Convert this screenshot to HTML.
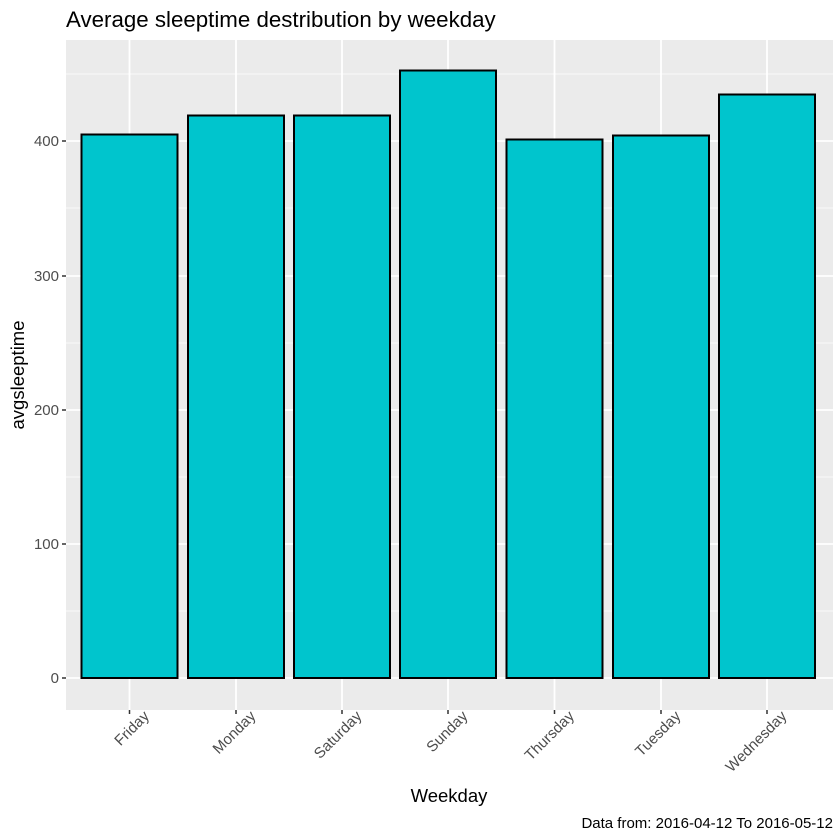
<!DOCTYPE html>
<html><head><style>body{margin:0;background:#fff}svg{display:block}</style></head>
<body>
<svg width="840" height="840" xmlns="http://www.w3.org/2000/svg" font-family="Liberation Sans, sans-serif">
<rect x="0" y="0" width="840" height="840" fill="#fff"/>
<rect x="66" y="40" width="767" height="670" fill="#ebebeb"/>
<g stroke="#fff" stroke-width="0.8">
<line x1="66" x2="833" y1="611" y2="611"/><line x1="66" x2="833" y1="477" y2="477"/>
<line x1="66" x2="833" y1="343" y2="343"/><line x1="66" x2="833" y1="208" y2="208"/>
<line x1="66" x2="833" y1="74" y2="74"/>
</g>
<g stroke="#fff" stroke-width="1.8">
<line x1="66" x2="833" y1="678" y2="678"/><line x1="66" x2="833" y1="544" y2="544"/>
<line x1="66" x2="833" y1="410" y2="410"/><line x1="66" x2="833" y1="276" y2="276"/>
<line x1="66" x2="833" y1="141" y2="141"/>
<line x1="129.5" x2="129.5" y1="40" y2="710"/><line x1="236" x2="236" y1="40" y2="710"/>
<line x1="342" x2="342" y1="40" y2="710"/><line x1="448" x2="448" y1="40" y2="710"/>
<line x1="554.5" x2="554.5" y1="40" y2="710"/><line x1="661" x2="661" y1="40" y2="710"/>
<line x1="767" x2="767" y1="40" y2="710"/>
</g>
<g fill="#00c5cd" stroke="#000" stroke-width="2">
<rect x="81.5" y="134.5" width="96" height="543.5"/>
<rect x="188" y="115.5" width="96" height="562.5"/>
<rect x="294" y="115.5" width="96" height="562.5"/>
<rect x="400" y="70.5" width="96" height="607.5"/>
<rect x="506.5" y="139.5" width="96" height="538.5"/>
<rect x="613" y="135.5" width="96" height="542.5"/>
<rect x="719" y="94.5" width="96" height="583.5"/>
</g>
<g stroke="#333" stroke-width="1.5">
<line x1="62" x2="66" y1="678" y2="678"/><line x1="62" x2="66" y1="544" y2="544"/>
<line x1="62" x2="66" y1="410" y2="410"/><line x1="62" x2="66" y1="276" y2="276"/>
<line x1="62" x2="66" y1="141" y2="141"/>
<line x1="129.5" x2="129.5" y1="710" y2="714"/><line x1="236" x2="236" y1="710" y2="714"/>
<line x1="342" x2="342" y1="710" y2="714"/><line x1="448" x2="448" y1="710" y2="714"/>
<line x1="554.5" x2="554.5" y1="710" y2="714"/><line x1="661" x2="661" y1="710" y2="714"/>
<line x1="767" x2="767" y1="710" y2="714"/>
</g>
<g fill="#4d4d4d" font-size="15" text-anchor="end">
<text x="59" y="683">0</text><text x="59" y="549">100</text><text x="59" y="415">200</text>
<text x="59" y="281">300</text><text x="59" y="146">400</text>
</g>
<g fill="#4d4d4d" font-size="15" text-anchor="end">
<text transform="translate(150,717) rotate(-45)">Friday</text>
<text transform="translate(256.5,717) rotate(-45)">Monday</text>
<text transform="translate(362.5,717) rotate(-45)">Saturday</text>
<text transform="translate(468.5,717) rotate(-45)">Sunday</text>
<text transform="translate(575,717) rotate(-45)">Thursday</text>
<text transform="translate(681.5,717) rotate(-45)">Tuesday</text>
<text transform="translate(787.5,717) rotate(-45)">Wednesday</text>
</g>
<text x="66" y="27" font-size="22.3" fill="#000">Average sleeptime destribution by weekday</text>
<text x="449" y="802" font-size="18.5" fill="#000" text-anchor="middle">Weekday</text>
<text transform="translate(24,375) rotate(-90)" font-size="18.5" fill="#000" text-anchor="middle">avgsleeptime</text>
<text x="833" y="828" font-size="15" fill="#000" text-anchor="end">Data from: 2016-04-12 To 2016-05-12</text>
</svg>
</body></html>
